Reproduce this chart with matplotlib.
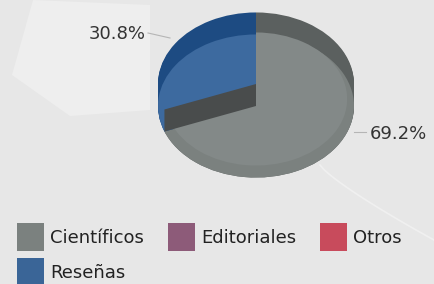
import numpy as np
import matplotlib.pyplot as plt
from matplotlib.patches import Patch

labels = ['Científicos', 'Editoriales', 'Otros', 'Reseñas']
values = [69.2, 0.0, 0.0, 30.8]
colors = ['#7b817f', '#8d5b79', '#c84b5c', '#3d6a9f']
wall_colors = ['#5b605f', '#5b605f', '#5b605f', '#1d4b82']
pct_text = ['69.2%', '', '', '30.8%']

W, H = 434, 284
sy = 0.73          # vertical squash of the pie
depth = 22         # wall height in pixels

fig = plt.figure(figsize=(W / 100, H / 100), dpi=100)
fig.patch.set_facecolor('#e7e7e7')
ax = fig.add_axes([0, 0, 1, 1])
ax.set_facecolor('#e7e7e7')

def to_data(x, y):
    return x, (H - y) / sy

# faint background decoration
bx = [33, 150, 150, 70, 12]
by = [0, 5, 110, 116, 75]
bxd, byd = zip(*[to_data(a, b) for a, b in zip(bx, by)])
ax.fill(bxd, byd, color='#eeeeee', zorder=0, lw=0)
t = np.linspace(0, 1, 30)
lx = 320 + 114 * t
ly = 165 + 60 * t ** 0.8 + 15 * t
ax.plot(lx, (H - ly) / sy, color='#f0f0f0', lw=1.2, zorder=0)

cx, cy = to_data(256, 106)
r = 98
common = dict(startangle=90, counterclock=False, radius=r,
              wedgeprops=dict(linewidth=0), normalize=True, frame=True)

# side wall: stacked layers
for k in np.linspace(depth, 0, 23):
    ax.pie(values, colors=wall_colors, center=(cx, cy + k / sy), **common)

# top face
ax.pie(values, colors=colors, center=(cx, cy), **common)
light = ['#838988', 'none', 'none', 'none']
ax.pie(values, colors=light, center=(cx, cy + 7 / sy),
       startangle=90, counterclock=False, radius=r * 0.93,
       wedgeprops=dict(linewidth=0), normalize=True, frame=True)

# cut wall at the end of the first slice
a = np.radians(90 - 360 * values[0] / sum(values))
ex, ey = cx + r * np.cos(a), cy + r * np.sin(a)
d = depth / sy
ax.fill([cx, ex, ex, cx], [cy, ey, ey + d, cy + d], color='#494c4c', lw=0, zorder=5)

# percentage labels with leader lines
ax.plot([148, 170], [(H - 33) / sy, (H - 38) / sy], color='#b5b5b5', lw=0.8, zorder=6)
ax.plot([354, 366], [(H - 132) / sy, (H - 132) / sy], color='#b5b5b5', lw=0.8, zorder=6)
ax.text(117, (H - 34) / sy, pct_text[3], ha='center', va='center', fontsize=13,
        color='#333333', zorder=7)
ax.text(398, (H - 134) / sy, pct_text[0], ha='center', va='center', fontsize=13,
        color='#333333', zorder=7)

ax.set_aspect('auto')
ax.set_xlim(0, W)
ax.set_ylim(0, H / sy)
ax.axis('off')

# legend, ordered so rows read Científicos, Editoriales, Otros / Reseñas
order = [0, 3, 1, 2]
handles = [Patch(facecolor=colors[i] if i != 3 else '#3a6597', label=labels[i]) for i in order]
fig.legend(handles=handles, loc='upper left', bbox_to_anchor=(17 / W, 1 - 223 / H),
           ncol=3, frameon=False, fontsize=13, handlelength=1.5, handleheight=2.0,
           handletextpad=0.33, columnspacing=1.33, labelspacing=0.39,
           borderpad=0, borderaxespad=0, labelcolor='#222222')

fig.savefig('out.png', dpi=100, facecolor=fig.get_facecolor())
